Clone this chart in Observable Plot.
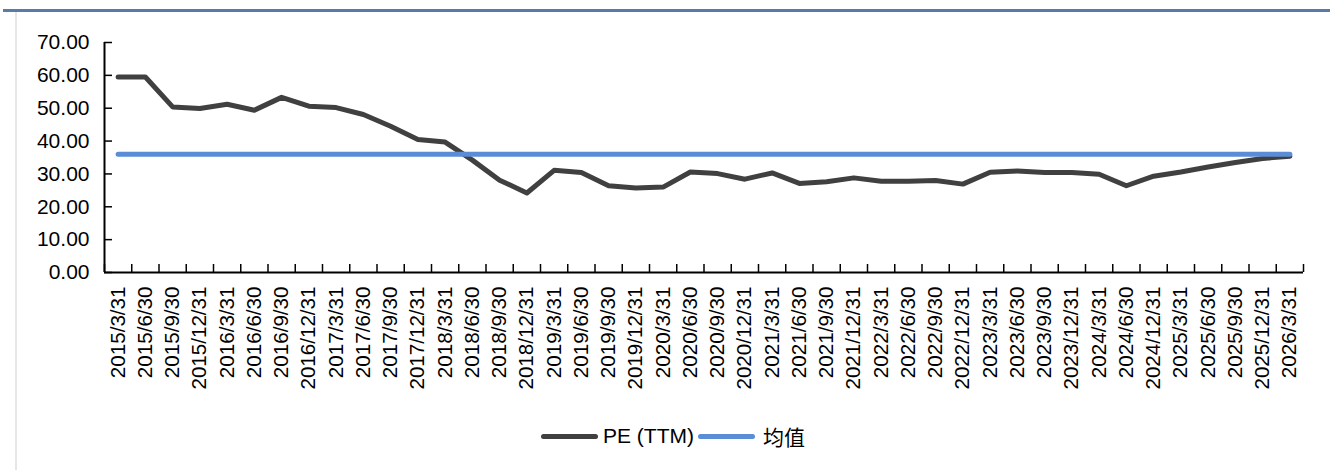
<!DOCTYPE html>
<html><head><meta charset="utf-8">
<script src="https://cdn.jsdelivr.net/npm/d3@7"></script>
<script src="https://cdn.jsdelivr.net/npm/@observablehq/plot@0.6"></script>
<style>
body{margin:0;background:#fff;}
#wrap{position:relative;width:1330px;height:470px;overflow:hidden;font-family:"Liberation Sans",Arial,sans-serif;}
#topline{position:absolute;left:3px;right:0;top:9px;height:3px;background:#5b7aa8;}
#leftline{position:absolute;left:15px;top:12px;bottom:0;width:2px;background:#e6e6e6;}
#chart{position:absolute;left:0;top:0;}
#legend{position:absolute;top:424px;left:541px;height:24px;display:flex;align-items:center;font-size:21px;color:#000;white-space:nowrap;}
.sw{display:inline-block;width:57px;height:5px;border-radius:3px;}
.lab{display:inline-block;}
</style>
</head><body>
<div id="wrap">
<div id="topline"></div>
<div id="leftline"></div>
<div id="chart"></div>
<div id="legend"></div>
</div>
<script>
const dates = ["2015/3/31","2015/6/30","2015/9/30","2015/12/31","2016/3/31","2016/6/30","2016/9/30","2016/12/31","2017/3/31","2017/6/30","2017/9/30","2017/12/31","2018/3/31","2018/6/30","2018/9/30","2018/12/31","2019/3/31","2019/6/30","2019/9/30","2019/12/31","2020/3/31","2020/6/30","2020/9/30","2020/12/31","2021/3/31","2021/6/30","2021/9/30","2021/12/31","2022/3/31","2022/6/30","2022/9/30","2022/12/31","2023/3/31","2023/6/30","2023/9/30","2023/12/31","2024/3/31","2024/6/30","2024/12/31","2025/3/31","2025/6/30","2025/9/30","2025/12/31","2026/3/31"];
const pe = [59.5,59.5,50.4,49.9,51.2,49.4,53.3,50.6,50.2,48.1,44.5,40.5,39.7,34.2,28.1,24.2,31.1,30.4,26.4,25.7,26.0,30.6,30.1,28.4,30.3,27.1,27.6,28.8,27.8,27.8,28.0,26.9,30.5,30.9,30.4,30.4,29.9,26.4,29.3,30.6,32.1,33.5,34.7,35.4];
const meanValue = 36.0;
const yTicks = [0,10,20,30,40,50,60,70];
const seriesNames = ["PE (TTM)","均值"];
const seriesColors = ["#404040","#5a8dd6"];

const data = dates.map((d,i)=>({i, date:d, pe:pe[i], mean:meanValue}));
const idx = d3.range(dates.length);
const bounds = d3.range(-0.5, dates.length, 1);

const H = 410;
const chart = Plot.plot({
  width:1330, height:H,
  marginLeft:104, marginRight:27, marginTop:42, marginBottom:H-272,
  x:{type:"linear", domain:[-0.5, dates.length-0.5], label:null},
  y:{domain:[0,70], label:null},
  style:{fontFamily:'"Liberation Sans",Arial,sans-serif', fontSize:"21px", color:"#000", background:"transparent", overflow:"visible"},
  marks:[
    Plot.axisY(yTicks, {tickSize:0, tickPadding:15, tickFormat:d3.format(".2f"), fontSize:21, label:null}),
    Plot.axisY(yTicks, {tickSize:8, dx:8, tickFormat:()=>"", strokeWidth:1.5, label:null}),
    Plot.axisX(idx, {tickSize:0, tickPadding:14, tickRotate:-90, tickFormat:i=>dates[i], fontSize:20.6, label:null}),
    Plot.axisX(bounds, {tickSize:8, dy:-8, tickFormat:()=>"", strokeWidth:1.5, label:null}),
    Plot.ruleY([0], {strokeWidth:2, stroke:"#000"}),
    Plot.ruleX([-0.5], {y1:0, y2:70, strokeWidth:2, stroke:"#000"}),
    Plot.line(data, {x:"i", y:"pe", stroke:seriesColors[0], strokeWidth:5, strokeLinejoin:"round"}),
    Plot.line(data, {x:"i", y:"mean", stroke:seriesColors[1], strokeWidth:5, strokeLinecap:"round"})
  ]
});
document.getElementById("chart").appendChild(chart);

const lg = document.getElementById("legend");
seriesNames.forEach((n,k)=>{
  const s = document.createElement("span"); s.className="sw"; s.style.background=seriesColors[k];
  s.style.marginRight = k===0 ? "5px" : "8px";
  const t = document.createElement("span"); t.className="lab"; t.textContent=n;
  if(k===1) t.style.fontFamily='"Noto Sans CJK SC",sans-serif';
  t.style.marginRight="4px";
  lg.appendChild(s); lg.appendChild(t);
});
</script>
</body></html>
